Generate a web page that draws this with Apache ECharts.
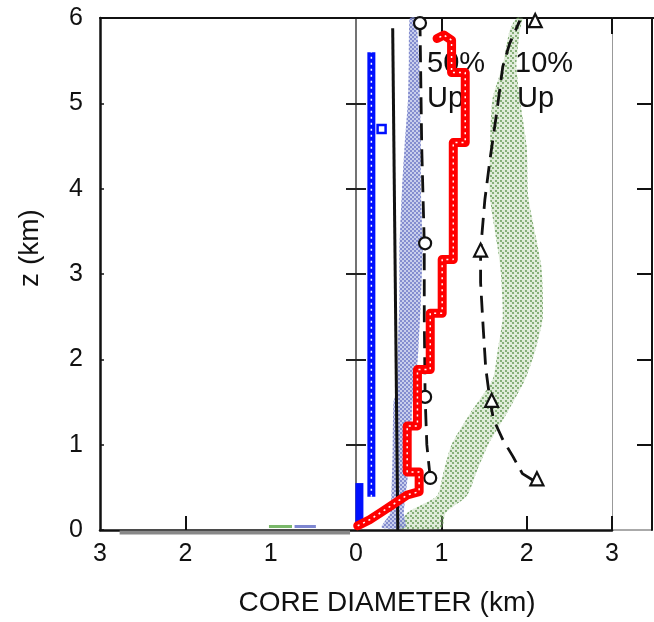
<!DOCTYPE html>
<html>
<head>
<meta charset="utf-8">
<script src="https://cdn.jsdelivr.net/npm/echarts@6/dist/echarts.min.js"></script>
<style>
  html, body { margin: 0; padding: 0; background: #fff; }
  #chart { width: 654px; height: 622px; }
</style>
</head>
<body>
<div id="chart"></div>
<script>
// core diameter (km) vs height z (km); negative x just mirrors the axis labels
const xTicks = [-3, -2, -1, 0, 1, 2, 3]
const zTicks = [0, 1, 2, 3, 4, 5, 6]

// blue step profile
const blueLow = [[0.04, 0.06], [0.04, 0.55]]
const blueMain = [[0.18, 0.39], [0.18, 5.6]]
const blueMark = [[0.3, 4.7]]

// black solid profile
const blackLine = [[0.49, 0.0], [0.43, 5.88]]

// red step profile
const redLine = [
  [0.02, 0.05], [0.16, 0.12], [0.3, 0.21], [0.45, 0.31], [0.6, 0.41], [0.74, 0.45],
  [0.74, 0.68], [0.6, 0.68], [0.6, 1.22], [0.72, 1.22], [0.72, 1.88], [0.87, 1.88],
  [0.87, 2.54], [1.01, 2.54], [1.01, 3.17], [1.14, 3.17], [1.14, 4.54], [1.28, 4.54],
  [1.28, 5.36], [1.12, 5.36], [1.12, 5.74], [1.03, 5.8], [0.95, 5.76]
]

// 50% Up curve (dashed, circles)
const up50Line = [[0.87, 0.61], [0.83, 1.0], [0.81, 1.56], [0.8, 2.5], [0.8, 3.36], [0.77, 4.5], [0.75, 5.94]]
const up50Marks = [[0.87, 0.61], [0.81, 1.56], [0.81, 3.36], [0.75, 5.94]]

// 10% Up curve (dashed, triangles)
const up10Line = [
  [2.08, 0.58], [1.95, 0.66], [1.84, 0.86], [1.72, 1.06], [1.61, 1.3], [1.57, 1.52],
  [1.52, 1.9], [1.49, 2.38], [1.46, 2.9], [1.46, 3.28], [1.51, 3.87], [1.57, 4.34],
  [1.65, 4.9], [1.72, 5.43], [1.8, 5.7], [1.92, 5.97]
]
const up10Marks = [[2.12, 0.6], [1.59, 1.52], [1.46, 3.28], [2.1, 5.97]]

// lavender scatter band (left / right edge at each z)
const lavZ = [0.03, 0.2, 0.57, 0.92, 1.5, 1.63, 2.1, 2.7, 3.3, 4.0, 4.5, 5.05, 5.5, 6.0]
const lavLo = [0.3, 0.4, 0.42, 0.43, 0.44, 0.48, 0.49, 0.51, 0.51, 0.54, 0.57, 0.61, 0.62, 0.63]
const lavHi = [0.58, 0.56, 0.6, 0.64, 0.66, 0.69, 0.73, 0.76, 0.78, 0.76, 0.76, 0.75, 0.74, 0.7]

// green scatter band
const grnZ = [0.02, 0.2, 0.4, 0.7, 1.0, 1.37, 1.76, 2.1, 2.5, 3.1, 3.9, 4.5, 5.05, 5.45, 5.85, 6.0]
const grnLo = [0.5, 0.6, 0.95, 1.03, 1.12, 1.34, 1.6, 1.66, 1.72, 1.69, 1.57, 1.57, 1.6, 1.72, 1.8, 1.88]
const grnHi = [1.0, 1.05, 1.3, 1.42, 1.55, 1.77, 1.98, 2.1, 2.19, 2.17, 2.02, 2.0, 1.92, 1.88, 1.92, 1.95]

// scan residue on the negative side of the base line
const grayBase = [[-2.77, -0.03], [-0.07, -0.03]]
const greenBits = [[-1.02, 0.04], [-0.75, 0.04]]
const lavBits = [[-0.72, 0.04], [-0.47, 0.04]]

const FONT = "'Liberation Sans', Arial, sans-serif"

function stipple (color, size) {
  let c = document.createElement('canvas')
  c.width = size
  c.height = size
  let g = c.getContext('2d')
  g.fillStyle = color
  g.fillRect(0, 0, 2, 2)
  g.fillRect(Math.floor(size / 2), Math.floor(size / 2), 2, 2)
  return c
}

function bandSeries (name, zs, lo, hi, base, dots) {
  return {
    name: name,
    type: 'custom',
    xAxisIndex: 0,
    yAxisIndex: 0,
    z: 1,
    data: [0],
    renderItem (params, api) {
      let pts = []
      lo.forEach((x, i) => pts.push(api.coord([x, zs[i]])))
      for (let i = hi.length - 1; i >= 0; i--) pts.push(api.coord([hi[i], zs[i]]))
      return {
        type: 'group',
        children: [
          { type: 'polygon', shape: { points: pts, smooth: 0.2 }, style: { fill: base } },
          { type: 'polygon', shape: { points: pts, smooth: 0.2 }, style: { fill: { image: dots, repeat: 'repeat' } } }
        ]
      }
    }
  }
}

function line (name, data, color, width, extra) {
  return Object.assign({
    name: name,
    type: 'line',
    xAxisIndex: 0,
    yAxisIndex: 0,
    data: data,
    showSymbol: false,
    symbol: 'none',
    animation: false,
    lineStyle: { color: color, width: width }
  }, extra || {})
}

let chart = echarts.init(document.getElementById('chart'))

let blueMainDots = line('blueDots', blueMain, '#fff', 1.5, { z: 6, lineStyle: { color: '#fff', width: 1.5, type: [2, 4] } })
let redDots = line('redDots', redLine, '#fff', 1.5, { z: 6, lineStyle: { color: '#fff', width: 1.5, type: [2, 4] } })

chart.setOption({
  animation: false,
  backgroundColor: '#fff',
  grid: { left: 100, right: 42, top: 18, bottom: 92 },
  xAxis: [
    {
      type: 'value', position: 'bottom', min: -3, max: 3, interval: 1,
      axisLine: { onZero: false, lineStyle: { color: '#111', width: 2.5 } },
      axisTick: { inside: true, length: 14, lineStyle: { color: '#111', width: 2 }, customValues: [-2, 1, 2, 3] },
      axisLabel: { fontSize: 25, fontFamily: FONT, color: '#111', margin: 12, formatter: v => String(Math.abs(v)), customValues: xTicks },
      splitLine: { show: false }
    },
    {
      type: 'value', position: 'top', min: -3, max: 3, interval: 1,
      axisLine: { onZero: false, lineStyle: { color: '#111', width: 2 } },
      axisTick: { inside: true, length: 16, lineStyle: { color: '#111', width: 2 }, customValues: [1, 2, 3] },
      axisLabel: { show: false },
      splitLine: { show: false }
    }
  ],
  yAxis: [
    {
      type: 'value', position: 'left', min: 0, max: 6, interval: 1,
      axisLine: { show: true, onZero: false, lineStyle: { color: '#111', width: 2.5 } },
      axisTick: { inside: true, length: 4, lineStyle: { color: '#111', width: 1.5 } },
      axisLabel: { fontSize: 25, fontFamily: FONT, color: '#111', margin: 17, customValues: zTicks },
      splitLine: { show: false }
    },
    {
      type: 'value', position: 'left', min: 0, max: 6, interval: 1,
      axisLine: { show: true, onZero: true, onZeroAxisIndex: 0, lineStyle: { color: '#444', width: 1.5 } },
      axisTick: { inside: false, length: 10, lineStyle: { color: '#222', width: 2 }, customValues: [1, 2, 3, 4, 5] },
      axisLabel: { show: false },
      splitLine: { show: false }
    },
    {
      type: 'value', position: 'left', min: 0, max: 6, interval: 1,
      axisLine: { show: false, onZero: true, onZeroAxisIndex: 0 },
      axisTick: { inside: true, length: 10, lineStyle: { color: '#222', width: 2 }, customValues: [1, 2, 3, 4, 5] },
      axisLabel: { show: false },
      splitLine: { show: false }
    },
    {
      type: 'value', position: 'right', min: 0, max: 6, interval: 1,
      axisLine: { show: true, onZero: false, lineStyle: { color: '#999', width: 1 } },
      axisTick: { show: false },
      axisLabel: { show: false },
      splitLine: { show: false }
    },
    {
      type: 'value', position: 'right', offset: 40, min: 0, max: 6, interval: 1,
      axisLine: { show: true, onZero: false, lineStyle: { color: '#111', width: 2 } },
      axisTick: { inside: true, length: 15, lineStyle: { color: '#111', width: 2 }, customValues: [1, 2, 3, 4, 5] },
      axisLabel: { show: false },
      splitLine: { show: false }
    }
  ],
  graphic: [
    { type: 'line', z: 0, shape: { x1: 612, y1: 18, x2: 654, y2: 18 }, style: { stroke: '#111', lineWidth: 2 } },
    { type: 'line', z: 0, shape: { x1: 612, y1: 530, x2: 652, y2: 530 }, style: { stroke: '#aaa', lineWidth: 2 } },
    { type: 'text', z: 0, x: 427, y: 49, style: { text: '50%', font: '29px ' + FONT, fill: '#111' } },
    { type: 'text', z: 0, x: 427, y: 84, style: { text: 'Up', font: '29px ' + FONT, fill: '#111' } },
    { type: 'text', z: 0, x: 515, y: 49, style: { text: '10%', font: '29px ' + FONT, fill: '#111' } },
    { type: 'text', z: 0, x: 517, y: 84, style: { text: 'Up', font: '29px ' + FONT, fill: '#111' } },
    { type: 'text', x: 30, y: 248, rotation: Math.PI / 2, style: { text: 'z (km)', font: '28px ' + FONT, fill: '#111', align: 'center', verticalAlign: 'middle' } },
    { type: 'text', x: 387, y: 603, style: { text: 'CORE DIAMETER (km)', font: '28px ' + FONT, fill: '#111', align: 'center', verticalAlign: 'middle' } }
  ],
  series: [
    bandSeries('green', grnZ, grnLo, grnHi, 'rgba(165,200,150,0.35)', stipple('rgba(95,150,80,0.7)', 5)),
    bandSeries('lavender', lavZ, lavLo, lavHi, 'rgba(155,165,220,0.55)', stipple('rgba(115,125,200,0.8)', 4)),
    line('base', grayBase, '#888', 4, { clip: false, z: 1 }),
    line('greenBits', greenBits, '#7ab86a', 3, { z: 1 }),
    line('lavBits', lavBits, '#7d86d0', 3, { z: 1 }),
    line('black', blackLine, '#111', 3, { z: 3 }),
    line('50% Up', up50Line, '#111', 2.8, { z: 3, lineStyle: { color: '#111', width: 2.8, type: [17, 9] } }),
    line('10% Up', up10Line, '#111', 2.8, { z: 3, lineStyle: { color: '#111', width: 2.8, type: [17, 9] } }),
    {
      name: '50% marks', type: 'scatter', xAxisIndex: 0, yAxisIndex: 0, z: 4,
      data: up50Marks, symbol: 'circle', symbolSize: 12,
      itemStyle: { color: '#fff', borderColor: '#111', borderWidth: 2.2, opacity: 1 }
    },
    {
      name: '10% marks', type: 'scatter', xAxisIndex: 0, yAxisIndex: 0, z: 4,
      data: up10Marks, symbol: 'triangle', symbolSize: 13,
      itemStyle: { color: '#fff', borderColor: '#111', borderWidth: 2.2, opacity: 1 }
    },
    line('blueLow', blueLow, '#0010ff', 8, { z: 5 }),
    line('blueMain', blueMain, '#0010ff', 8, { z: 5 }),
    blueMainDots,
    {
      name: 'blue mark', type: 'scatter', xAxisIndex: 0, yAxisIndex: 0, z: 5,
      data: blueMark, symbol: 'rect', symbolSize: 8,
      itemStyle: { color: '#fff', borderColor: '#0010ff', borderWidth: 2.5, opacity: 1 }
    },
    line('red', redLine, '#ff0000', 9, { z: 5, lineStyle: { color: '#ff0000', width: 9, join: 'round', cap: 'round' } }),
    redDots
  ]
})
</script>
</body>
</html>
